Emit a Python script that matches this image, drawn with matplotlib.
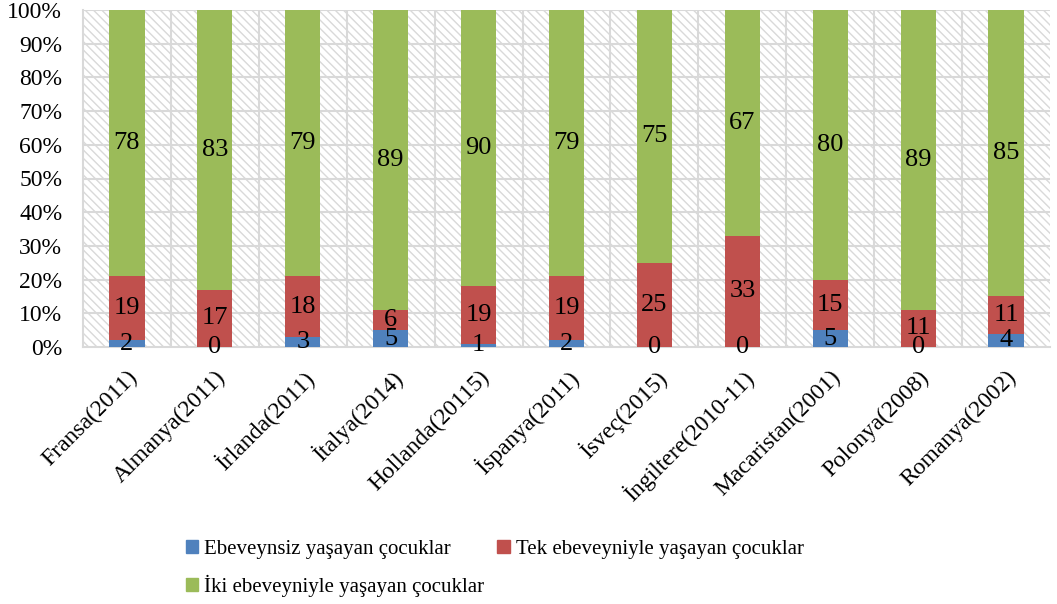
import matplotlib.pyplot as plt
import numpy as np
from matplotlib.patches import Rectangle, Patch

plt.rcParams['font.family'] = ['Liberation Serif', 'DejaVu Serif']
plt.rcParams['hatch.color'] = '#d9d9d9'
plt.rcParams['hatch.linewidth'] = 1.0

# veriler
ulkeler = ['Fransa(2011)', 'Almanya(2011)', 'İrlanda(2011)', 'İtalya(2014)', 'Hollanda(20115)',
           'İspanya(2011)', 'İsveç(2015)', 'İngiltere(2010-11)', 'Macaristan(2001)', 'Polonya(2008)',
           'Romanya(2002)']
ebeveynsiz = [2, 0, 3, 5, 1, 2, 0, 0, 5, 0, 4]
tek_ebeveyn = [19, 17, 18, 6, 19, 19, 25, 33, 15, 11, 11]
iki_ebeveyn = [78, 83, 79, 89, 90, 79, 75, 67, 80, 89, 85]

seriler = [ebeveynsiz, tek_ebeveyn, iki_ebeveyn]
isimler = ['Ebeveynsiz yaşayan çocuklar', 'Tek ebeveyniyle yaşayan çocuklar', 'İki ebeveyniyle yaşayan çocuklar']
renkler = ['#4f81bd', '#c0504d', '#9bbb59']

veri = np.array(seriler, dtype=float)
toplam = veri.sum(axis=0)
oran = veri / toplam * 100

fig = plt.figure(figsize=(10.57, 6.04), dpi=100)
ax = fig.add_axes([83 / 1057, 1 - 347 / 604, (1050 - 83) / 1057, (347 - 10) / 604])

x = np.arange(len(ulkeler))
ax.set_xlim(-0.5, len(ulkeler) - 0.5)
ax.set_ylim(0, 100)

# arka plan taraması
ax.add_patch(Rectangle((0, 0), 1, 1, transform=ax.transAxes, facecolor='white',
                       hatch='\\\\\\\\', edgecolor='#d9d9d9', linewidth=0, zorder=0))

for yv in range(10, 101, 10):
    ax.axhline(yv, color='#d9d9d9', lw=1.5, zorder=1)
for xv in np.arange(0.5, len(ulkeler) - 0.5, 1):
    ax.axvline(xv, color='#d9d9d9', lw=1.5, zorder=1)

alt = np.zeros(len(ulkeler))
for i in range(3):
    ax.bar(x, oran[i], 0.4, bottom=alt, color=renkler[i], zorder=3)
    for j in range(len(ulkeler)):
        ax.text(x[j], alt[j] + oran[i][j] / 2, str(seriler[i][j]), ha='center', va='center',
                fontsize=19, zorder=4)
    alt = alt + oran[i]

ax.set_yticks(range(0, 101, 10))
ax.set_yticklabels([f'{v}%' for v in range(0, 101, 10)], fontsize=17)
ax.set_xticks(x)
ax.set_xticklabels(ulkeler, rotation=45, ha='right', rotation_mode='anchor', fontsize=17)
ax.tick_params(axis='y', length=0, pad=15)
ax.tick_params(axis='x', length=0, pad=14)
for s in ['top', 'right']:
    ax.spines[s].set_visible(False)
for s in ['left', 'bottom']:
    ax.spines[s].set_color('#d9d9d9')
    ax.spines[s].set_linewidth(1.5)

handles = [Patch(color=renkler[i]) for i in range(3)]
order = [0, 2, 1]
fig.legend([handles[k] for k in order], [isimler[k] for k in order], ncol=2, frameon=False,
           loc='upper left', bbox_to_anchor=(167 / 1057, 1 - 521 / 604), fontsize=15,
           handlelength=0.6, handleheight=0.6, handletextpad=0.3, columnspacing=0.6,
           labelspacing=0.75)

fig.savefig('out.png', dpi=100)
